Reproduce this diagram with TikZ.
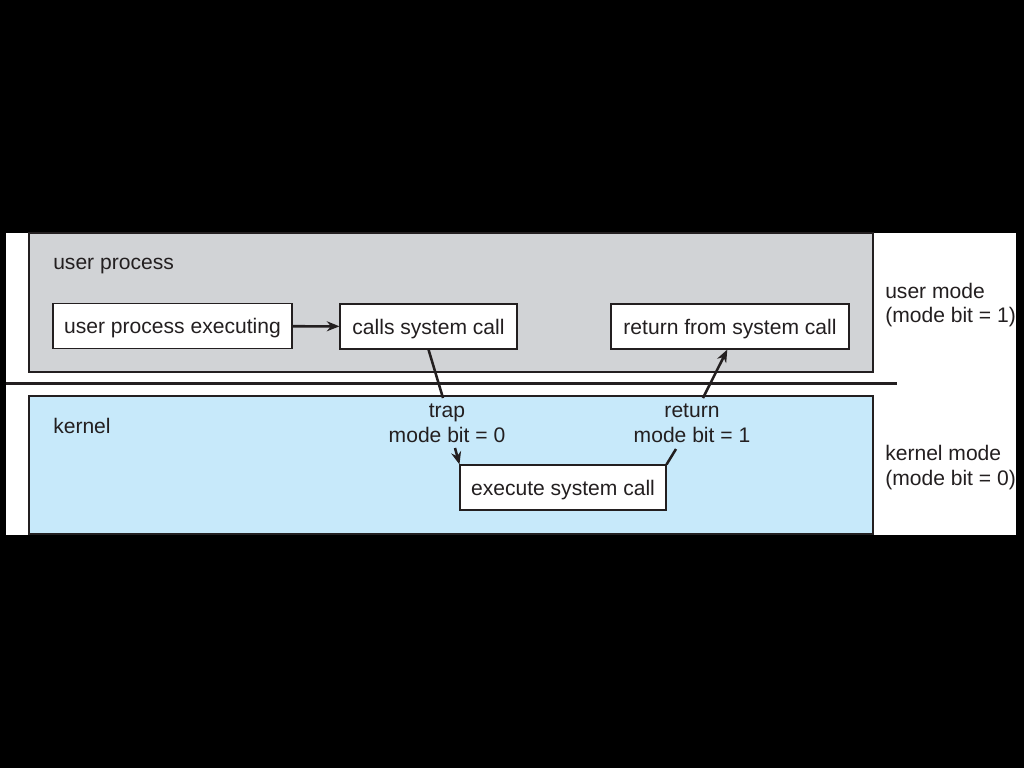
\documentclass[tikz,border=0pt]{standalone}
\usepackage{fontspec}
\setmainfont{Liberation Sans}
\usetikzlibrary{arrows.meta}
\definecolor{gbox}{RGB}{209,211,214}
\definecolor{kbox}{RGB}{199,233,250}
\definecolor{ink}{RGB}{35,31,32}
\begin{document}
\begin{tikzpicture}[x=0.75pt,y=-0.75pt,
  txt/.style={font=\fontsize{15.8}{18.5}\selectfont, text=ink, inner sep=0pt, text depth=0pt},
  pbox/.style={draw=ink, line width=0.8pt, fill=white, txt, minimum height=33.75pt},
  conn/.style={draw=ink, line width=1.9pt},
  arr/.style={conn, -{Stealth[length=9.5pt,width=7.5pt]}}]
\useasboundingbox (0,0) rectangle (1024,768);
\fill[black] (0,0) rectangle (1024,768);
\fill[white] (6,233) rectangle (1016,535);
\draw[ink, line width=0.8pt, fill=gbox] (29,233) rectangle (873,372);
\draw[ink, line width=0.8pt, fill=kbox] (29,396) rectangle (873,534);
\draw[ink, line width=2.3pt] (6,383.5) -- (897,383.5);

\node[txt, anchor=west] (up) at (53,264) {user process};
\node[txt, anchor=west] (kn) at (53,426) {kernel};
\node[txt, anchor=west, align=left] (um) at (885,303) {user mode\\(mode bit = 1)};
\node[txt, anchor=west, align=left] (km) at (885,465.5) {kernel mode\\(mode bit = 0)};

\node[pbox, minimum width=179.25pt] (upe) at (172.5,326) {user process executing};
\node[pbox, minimum width=132.75pt] (calls) at (428.5,326.5) {calls system call};
\node[pbox, minimum width=178.5pt] (ret) at (730,326.5) {return from system call};
\node[pbox, minimum width=154.5pt] (exec) at (563,487.5) {execute system call};

\node[txt, align=center, font=\fontsize{15.8}{18.75}\selectfont] (trap) at (447,423.5) {trap\\mode bit = 0};
\node[txt, align=center, font=\fontsize{15.8}{18.75}\selectfont] (retl) at (692,423.5) {return\\mode bit = 1};

\coordinate (t1) at (443,398);
\coordinate (t2) at (455,448);
\coordinate (r1) at (676,449);
\coordinate (r2) at (703,398);

\draw[arr] (upe) -- (calls);
\draw[conn] (calls.south) -- (t1);
\draw[arr] (t2) -- (exec.north west);
\draw[conn] (exec.north east) -- (r1);
\draw[arr] (r2) -- ([xshift=-2pt]ret.south);
\end{tikzpicture}
\end{document}
